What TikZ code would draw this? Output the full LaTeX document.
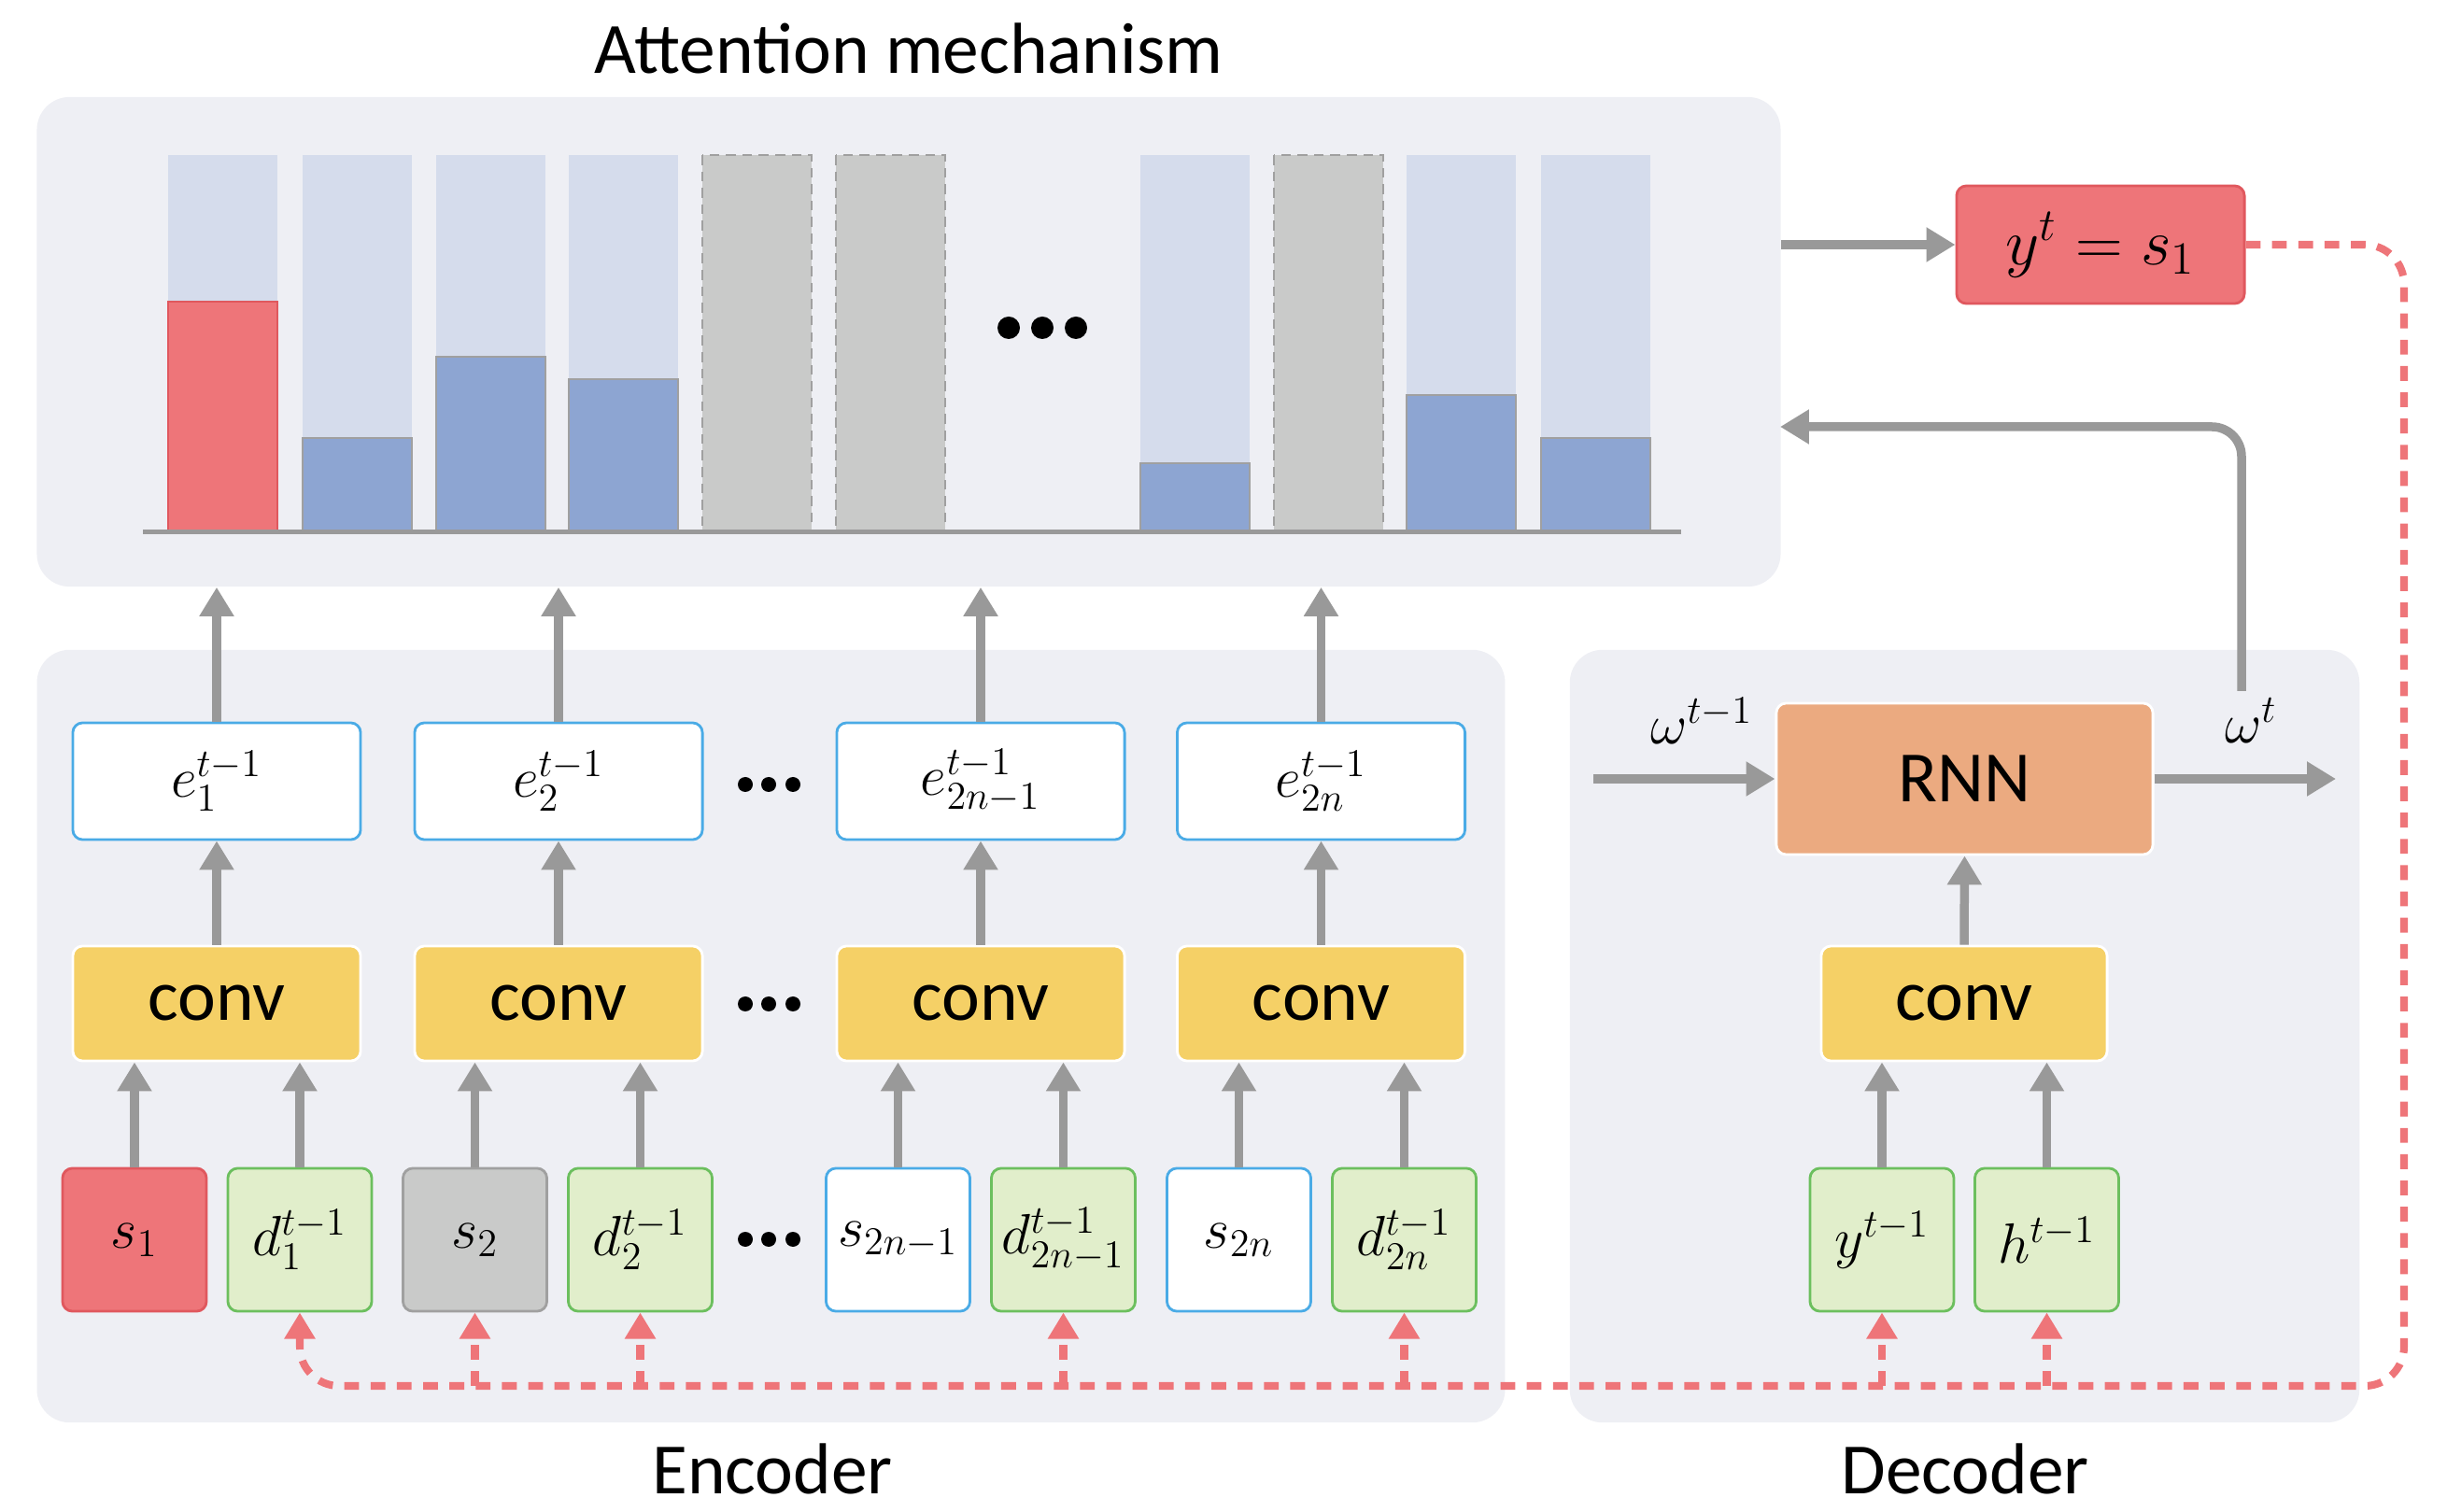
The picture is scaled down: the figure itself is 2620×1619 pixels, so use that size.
\RequirePackage{fix-cm}
\documentclass[tikz,border=0pt]{standalone}
\usepackage{fontspec}
\setmainfont{Carlito}
\usetikzlibrary{arrows.meta, calc, positioning}

\definecolor{ATTpanel}{HTML}{EEEFF4}
\definecolor{ATTlight}{HTML}{D5DCEC}
\definecolor{ATTbar}{HTML}{8DA5D2}
\definecolor{ATTred}{HTML}{EE7579}
\definecolor{ATTredline}{HTML}{E0585E}
\definecolor{ATTgrayfill}{HTML}{C9CAC9}
\definecolor{ATTdash}{HTML}{A0A0A0}
\definecolor{ATTgray}{HTML}{999999}
\definecolor{ATTgreen}{HTML}{E1EECB}
\definecolor{ATTgreenline}{HTML}{6CBF5E}
\definecolor{ATTblue}{HTML}{4AABE6}
\definecolor{ATTyellow}{HTML}{F5D066}
\definecolor{ATTorange}{HTML}{EBAA80}

\begin{document}
\begin{tikzpicture}[x=0.01cm, y=-0.01cm,
   panel/.style={fill=ATTpanel, rounded corners=10pt, inner sep=0pt},
   box/.style={rounded corners=3pt, line width=0.8pt, inner sep=0pt,
      font=\fontsize{17.28}{20}\selectfont},
   ebox/.style={box, draw=ATTblue, fill=white,
      minimum width=3.08cm, minimum height=1.25cm},
   convbox/.style={box, draw=white, fill=ATTyellow,
      minimum width=3.08cm, minimum height=1.23cm, font=\fontsize{22}{26}\selectfont},
   inbox/.style={box, minimum width=1.54cm, minimum height=1.53cm},
   sblue/.style={inbox, draw=ATTblue, fill=white},
   dgreen/.style={inbox, draw=ATTgreenline, fill=ATTgreen},
   garrow/.style={draw=ATTgray, line width=2.7pt, -{Triangle[width=10pt, length=8.8pt]}},
   fback/.style={draw=ATTred, line width=2.3pt, dash pattern=on 4.5pt off 3.5pt,
      -{Triangle[width=9pt, length=8pt]}},
   lbl/.style={font=\fontsize{22}{26}\selectfont, anchor=base},
   mlbl/.style={font=\fontsize{17.28}{20}\selectfont}
]
   \useasboundingbox (0,0) rectangle (2620,1619);

   % Panels
   \node[panel, minimum width=18.66cm, minimum height=5.24cm] (attn) at (973,366) {};
   \node[panel, minimum width=15.71cm, minimum height=8.27cm] (enc) at (825.5,1109.5) {};
   \node[panel, minimum width=8.45cm, minimum height=8.27cm] (dec) at (2103.5,1109.5) {};
   \node[lbl] (attnlbl) at (973,79) {Attention mechanism};
   \node[lbl] (enclbl) at (827,1599) {Encoder};
   \node[lbl] (declbl) at (2104,1599) {Decoder};

   % Attention weights
   \foreach \bx/\by in {324/469, 467/382, 609/406, 1221/496, 1506/423, 1650/469} {
      \fill[ATTlight] (\bx,166) rectangle ++(117,402);
      \filldraw[fill=ATTbar, draw=ATTdash, line width=0.4pt] (\bx,568) rectangle (\bx+117,\by);
   }
   \fill[ATTlight] (180,166) rectangle ++(117,402);
   \filldraw[fill=ATTred, draw=ATTredline, line width=0.4pt] (180,568) rectangle (297,323);
   \foreach \bx in {752, 895, 1364}
      \filldraw[fill=ATTgrayfill, draw=ATTdash, line width=0.5pt, dash pattern=on 3pt off 2pt]
         (\bx,166) rectangle ++(117,402);
   \draw[ATTgray, line width=1.5pt] (153,569.5) -- (1800,569.5);
   \foreach \dx in {1080, 1116, 1152}
      \fill (\dx,351) circle (12);

   % Output
   \node[box, draw=ATTredline, fill=ATTred, minimum width=3.08cm, minimum height=1.26cm,
      font=\fontsize{20}{24}\selectfont] (ys) at (2249,262) {$y^t = s_1$};

   % Encoder
   \node[ebox] (e1) at (232,836.5) {$e_1^{t-1}$};
   \node[ebox] (e2) at (598,836.5) {$e_2^{t-1}$};
   \node[ebox] (e3) at (1050,836.5) {$e_{2n-1}^{t-1}$};
   \node[ebox] (e4) at (1414.5,836.5) {$e_{2n}^{t-1}$};
   \node[convbox] (c1) at (232,1074.5) {conv};
   \node[convbox] (c2) at (598,1074.5) {conv};
   \node[convbox] (c3) at (1050,1074.5) {conv};
   \node[convbox] (c4) at (1414.5,1074.5) {conv};
   \node[inbox, draw=ATTredline, fill=ATTred] (s1) at (144,1327.5) {$s_1$};
   \node[dgreen] (d1) at (321,1327.5) {$d_1^{t-1}$};
   \node[inbox, draw=ATTdash, fill=ATTgrayfill] (s2) at (508.5,1327.5) {$s_2$};
   \node[dgreen] (d2) at (685.5,1327.5) {$d_2^{t-1}$};
   \node[sblue] (s3) at (961.5,1327.5) {$s_{2n-1}$};
   \node[dgreen] (d3) at (1138.5,1327.5) {$d_{2n-1}^{t-1}$};
   \node[sblue] (s4) at (1326.5,1327.5) {$s_{2n}$};
   \node[dgreen] (d4) at (1503.5,1327.5) {$d_{2n}^{t-1}$};
   \foreach \dy in {840, 1075, 1327}
      \foreach \dx in {798, 823, 849}
         \fill (\dx,\dy) circle (8);

   % Decoder
   \node[box, draw=white, fill=ATTorange, minimum width=4.03cm, minimum height=1.62cm,
      font=\fontsize{22}{26}\selectfont] (rnn) at (2103.5,834) {RNN};
   \node[convbox, minimum width=3.06cm] (c5) at (2103,1074.5) {conv};
   \node[dgreen] (yprev) at (2015,1327.5) {$y^{t-1}$};
   \node[dgreen] (hprev) at (2191.5,1327.5) {$h^{t-1}$};
   \node[mlbl] (wprev) at (1822,772) {$\omega^{t-1}$};
   \node[mlbl] (wcur) at (2410,772) {$\omega^{t}$};
   \coordinate (win) at (1706,834);
   \coordinate (wout) at (2501,834);
   \coordinate (fbstart) at (2400,740);
   \coordinate (fbin) at (1906,457);
   \coordinate (busR) at (2574,1484);

   % Arrows
   \foreach \n in {1,2,3,4} {
      \draw[garrow] (e\n.north) -- (e\n.north |- attn.south);
      \draw[garrow] (c\n.north) -- (e\n.south);
      \draw[garrow] (s\n.north) -- (s\n.north |- c\n.south);
      \draw[garrow] (d\n.north) -- (d\n.north |- c\n.south);
   }
   \draw[garrow] (yprev.north) -- (yprev.north |- c5.south);
   \draw[garrow] (hprev.north) -- (hprev.north |- c5.south);
   \draw[garrow] (c5.north) -- (rnn.south);
   \draw[garrow] (win) -- (rnn.west);
   \draw[garrow] (rnn.east) -- (wout);
   \draw[garrow, rounded corners=9pt] (fbstart) |- (fbin);
   \draw[garrow] (attn.east |- ys.west) -- (ys.west);

   % Feedback of the chosen input
   \draw[fback, rounded corners=12pt] (ys.east) -| (busR) -| (d1.south);
   \foreach \t in {s2, d2, d3, d4, yprev, hprev}
      \draw[fback] (\t.south |- busR) -- (\t.south);
\end{tikzpicture}
\end{document}
